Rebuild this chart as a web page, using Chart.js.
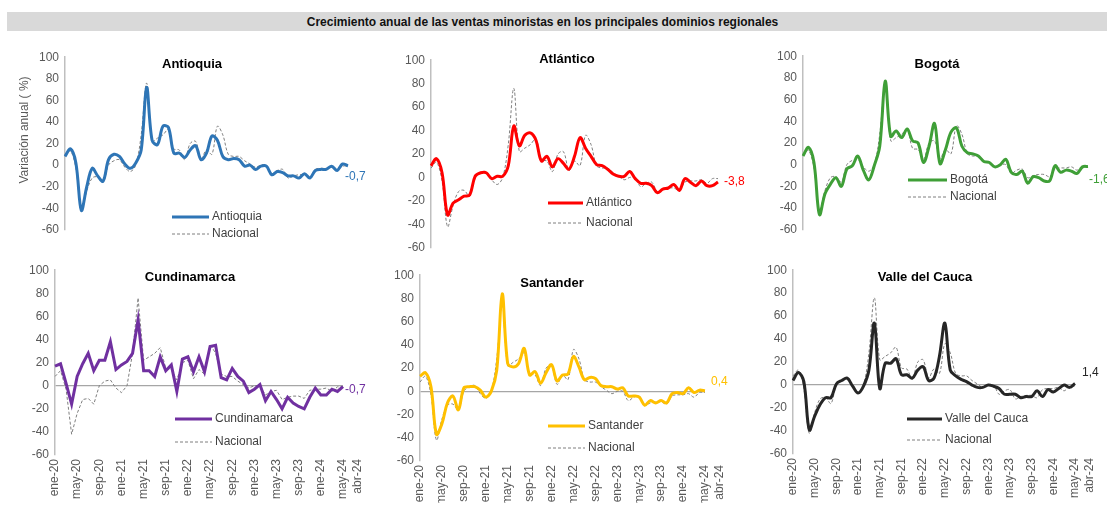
<!DOCTYPE html>
<html>
<head>
<meta charset="utf-8">
<script src="https://cdn.jsdelivr.net/npm/chart.js@4.4.1/dist/chart.umd.min.js"></script>
<style>
  body { margin: 0; background: #fff; width: 1107px; height: 505px; overflow: hidden; position: relative; font-family: 'Liberation Sans', Arial, sans-serif; }
  #banner { position: absolute; left: 7px; top: 12px; width: 1100px; height: 19px; background: #d9d9d9; }
  #banner span { position: absolute; left: 0; width: 1071px; top: 3px; text-align: center; font-weight: bold; font-size: 12px; color: #111; white-space: nowrap; }
  canvas { position: absolute; }
</style>
</head>
<body>
<div id="banner"><span>Crecimiento anual de las ventas minoristas en los principales dominios regionales</span></div>

<script>
// monthly categories, ene-20 .. may-24
const months = [
  'ene-20','feb-20','mar-20','abr-20','may-20','jun-20','jul-20','ago-20','sep-20','oct-20','nov-20','dic-20',
  'ene-21','feb-21','mar-21','abr-21','may-21','jun-21','jul-21','ago-21','sep-21','oct-21','nov-21','dic-21',
  'ene-22','feb-22','mar-22','abr-22','may-22','jun-22','jul-22','ago-22','sep-22','oct-22','nov-22','dic-22',
  'ene-23','feb-23','mar-23','abr-23','may-23','jun-23','jul-23','ago-23','sep-23','oct-23','nov-23','dic-23',
  'ene-24','feb-24','mar-24','abr-24','may-24'
];
const yTicks = [100, 80, 60, 40, 20, 0, -20, -40, -60];

// annual growth (%)
const nacional = [8, 13, -3, -42, -24, -12, -11, -16, 0, 4, 5, -2,
  -6, 0, 28, 76, 22, 25, 28, 33, 15, 14, 5, 20,
  22, 6, 14, 10, 36, 28, 10, 8, 8, 4, 1, -2,
  0, 0, -8, -5, -4, -12, -10, -9, -9, -11, -4, -3,
  -3, -2, -5, -1, -1];
const antioquia = [8, 15, 2, -42, -20, -3, -10, -15, 5, 10, 8, 1,
  -3, 2, 14, 72, 23, 19, 36, 35, 11, 11, 7, 14,
  18, 5, 11, 27, 23, 8, 5, 6, 5, -1, 0, -4,
  -1, -1, -9, -6, -7, -10, -10, -12, -8, -12, -5, -4,
  -4, -1, -5, 1, -0.7];
const atlantico = [10, 16, 4, -32, -22, -19, -16, -15, 1, 4, 4, -1,
  1, 1, 10, 44, 27, 36, 38, 32, 14, 18, 9, 16,
  12, 7, 18, 34, 25, 18, 11, 10, 7, 3, 1, 1,
  5, -1, -5, -5, -7, -13, -10, -9, -6, -11, -1, -4,
  -7, -3, -7, -7, -3.8];
const bogota = [8, 16, 2, -46, -27, -18, -12, -20, -4, -1, 8, -5,
  -14, -1, 17, 77, 26, 31, 25, 33, 22, 20, 2, 17,
  38, 1, 14, 30, 34, 17, 11, 10, 8, 3, 2, -2,
  0, 5, -7, -9, -6, -17, -11, -12, -15, -15, -1, -7,
  -5, -6, -8, -2, -1.6];
const cundinamarca = [17, 19, 2, -16, 8, 19, 28, 13, 22, 22, 38, 14,
  18, 21, 28, 57, 13, 13, 8, 25, 13, 18, -5, 23,
  25, 12, 25, 12, 34, 35, 7, 5, 15, 8, 4, -6,
  -3, 1, -13, -5, -12, -20, -10, -15, -18, -20, -10, -2,
  -8, -8, -3, -5, -0.7];
const santander = [13, 16, 4, -37, -28, -10, -4, -16, 3, 4, 4, 1,
  -5, 0, 18, 84, 24, 21, 24, 37, 14, 17, 7, 16,
  23, 9, 14, 15, 30, 21, 10, 12, 11, 5, 4, 4,
  2, 3, -4, -4, -5, -12, -8, -10, -8, -10, -2, -1,
  -2, 3, -1, 1, 0.4];
const valle = [4, 11, 3, -39, -27, -17, -11, -11, 1, 4, 6, -1,
  -7, -1, 13, 54, -3, 19, 19, 23, 9, 9, 6, 13,
  16, 4, 6, 25, 54, 13, 8, 5, 3, 0, -2, -2,
  0, -1, -3, -8, -8, -8, -11, -10, -10, -5, -10, -4,
  -6, -3, 0, -2, 1.4];

// panel geometry in page pixels: axis x, plot top/bottom, last point x
const panels = [
  { name: 'Antioquia', values: antioquia, color: '#2e75b6', end: '-0,7', smooth: true, row: 0,
    axisX: 65, top: 54, bottom: 233, right: 348, yw: 65, yTitle: true,
    titleAt: [192, 64], legend: [172, 209, 217, 234], endOff: [-3, 11] },
  { name: 'Atlántico', values: atlantico, color: '#ff0000', end: '-3,8', smooth: true, row: 0,
    axisX: 431, top: 57, bottom: 251, right: 718, yw: 45,
    titleAt: [567, 59], legend: [548, 583, 203, 223], endOff: [6, 0] },
  { name: 'Bogotá', values: bogota, color: '#3f9f37', end: '-1,6', smooth: true, row: 0,
    axisX: 803, top: 53, bottom: 233, right: 1088, yw: 45,
    titleAt: [937, 64], legend: [908, 947, 180, 197], endOff: [1, 13] },
  { name: 'Cundinamarca', values: cundinamarca, color: '#7030a0', end: '-0,7', smooth: false, row: 1,
    axisX: 55, top: 267, bottom: 455, right: 343, yw: 45,
    titleAt: [190, 277], legend: [175, 212, 419, 442], endOff: [2, 3] },
  { name: 'Santander', values: santander, color: '#ffc000', end: '0,4', smooth: true, row: 1,
    axisX: 420, top: 272, bottom: 461, right: 705, yw: 45,
    titleAt: [552, 283], legend: [548, 585, 426, 448], endOff: [6, -9] },
  { name: 'Valle del Cauca', values: valle, color: '#262626', end: '1,4', smooth: true, row: 1,
    axisX: 793, top: 267, bottom: 454, right: 1075, yw: 45,
    titleAt: [925, 277], legend: [907, 942, 419, 440], endOff: [7, -11] }
];

const FONT = "'Liberation Sans', Arial, sans-serif";
const PAD_TOP = 10, PAD_RIGHT = 40;

// titles, legends and last-value labels drawn inside each panel
const panelDecor = {
  id: 'panelDecor',
  afterDatasetsDraw(chart, args, opts) {
    const p = opts.panel;
    const { ctx, scales: { x, y } } = chart;
    const ox = p.canvasLeft, oy = p.canvasTop;
    ctx.save();

    ctx.font = 'bold 13px ' + FONT;
    ctx.fillStyle = '#000';
    ctx.textAlign = 'center';
    ctx.textBaseline = 'middle';
    ctx.fillText(p.name, p.titleAt[0] - ox, p.titleAt[1] - oy);

    if (p.yTitle) {
      ctx.save();
      ctx.translate(25 - ox, 130 - oy);
      ctx.rotate(-Math.PI / 2);
      ctx.font = '12px ' + FONT;
      ctx.fillStyle = '#595959';
      ctx.fillText('Variación anual ( %)', 0, 0);
      ctx.restore();
    }

    // legend
    const [x1, x2, ly1, ly2] = p.legend;
    ctx.lineWidth = 3;
    ctx.strokeStyle = p.color;
    ctx.beginPath();
    ctx.moveTo(x1 - ox, ly1 - oy);
    ctx.lineTo(x2 - ox, ly1 - oy);
    ctx.stroke();
    ctx.lineWidth = 1;
    ctx.strokeStyle = '#7f7f7f';
    ctx.setLineDash([3, 2]);
    ctx.beginPath();
    ctx.moveTo(x1 - ox, ly2 - oy);
    ctx.lineTo(x2 - ox, ly2 - oy);
    ctx.stroke();
    ctx.setLineDash([]);
    ctx.font = '12px ' + FONT;
    ctx.fillStyle = '#404040';
    ctx.textAlign = 'left';
    ctx.fillText(p.name, x2 + 3 - ox, ly1 - oy);
    ctx.fillText('Nacional', x2 + 3 - ox, ly2 - oy);

    // last value
    const last = p.values.length - 1;
    ctx.fillStyle = p.color;
    ctx.fillText(p.end, x.getPixelForValue(last) + p.endOff[0], y.getPixelForValue(p.values[last]) + p.endOff[1]);
    ctx.restore();
  }
};

panels.forEach(p => {
  const xh = p.row === 1 ? 505 - p.bottom - 2 : 0;
  p.canvasLeft = p.axisX - p.yw;
  p.canvasTop = p.top - PAD_TOP;
  const w = p.right - p.canvasLeft + PAD_RIGHT;
  const h = (p.bottom - p.top) + PAD_TOP + (p.row === 1 ? xh : 10);

  const canvas = document.createElement('canvas');
  canvas.width = w;
  canvas.height = h;
  canvas.style.left = p.canvasLeft + 'px';
  canvas.style.top = p.canvasTop + 'px';
  document.body.appendChild(canvas);

  new Chart(canvas.getContext('2d'), {
    type: 'line',
    data: {
      labels: months,
      datasets: [
        { label: p.name, data: p.values, borderColor: p.color, borderWidth: 3,
          pointRadius: 0, tension: p.smooth ? 0.35 : 0, fill: false },
        { label: 'Nacional', data: nacional, borderColor: '#7f7f7f', borderWidth: 1,
          borderDash: [3, 2], pointRadius: 0, tension: p.smooth ? 0.35 : 0, fill: false }
      ]
    },
    options: {
      responsive: false,
      animation: false,
      layout: { padding: { top: PAD_TOP, right: PAD_RIGHT, left: 0, bottom: p.row === 1 ? 0 : 10 } },
      plugins: {
        legend: { display: false },
        tooltip: { enabled: false },
        panelDecor: { panel: p }
      },
      scales: {
        x: {
          offset: false,
          grid: { display: false, drawTicks: false },
          border: { display: false },
          ticks: {
            display: p.row === 1,
            autoSkip: false,
            minRotation: 90,
            maxRotation: 90,
            padding: 4,
            color: '#595959',
            font: { family: FONT, size: 12 },
            callback: (v, i) => {
              if (i === months.length - 1) return ['may-24', 'abr-24'];
              return i % 4 === 0 ? months[i] : null;
            }
          },
          afterFit: s => { s.height = xh; }
        },
        y: {
          min: yTicks[yTicks.length - 1],
          max: yTicks[0],
          grid: {
            display: p.row === 1,
            drawTicks: false,
            color: c => (c.tick && c.tick.value === 0) ? '#a6a6a6' : 'rgba(0,0,0,0)',
            lineWidth: 1.2
          },
          border: { display: true, color: '#bfbfbf', width: 1.5 },
          ticks: {
            stepSize: 20,
            padding: 6,
            color: '#595959',
            font: { family: FONT, size: 12 }
          },
          afterFit: s => { s.width = p.yw; }
        }
      }
    },
    plugins: [panelDecor]
  });
});
</script>
</body>
</html>
